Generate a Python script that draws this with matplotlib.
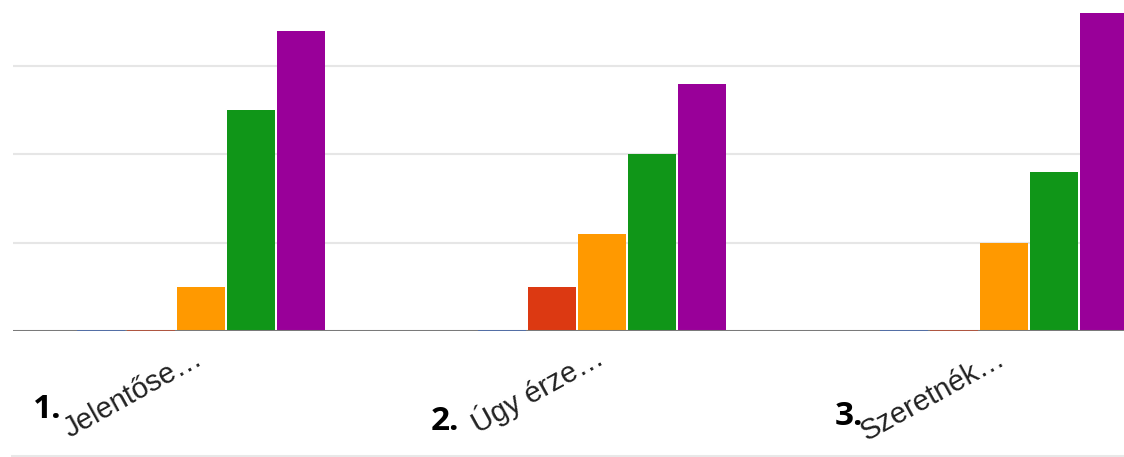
import matplotlib
matplotlib.use("Agg")
import matplotlib.pyplot as plt
from matplotlib.lines import Line2D
import numpy as np

# data
categories = ["Jelentőse…", "Úgy érze…", "Szeretnék…"]
numbers = ["1.", "2.", "3."]
blue = [0, 0, 0]
red = [0, 5, 0]
orange = [5, 11, 10]
green = [25, 20, 18]
purple = [34, 28, 36]
gridlines = [10, 20, 30]

series = [blue, red, orange, green, purple]
colors = ["#3366cc", "#dc3912", "#ff9900", "#109618", "#990099"]

# label placement (pixels, relative to group centre on the baseline)
num_offsets = [(-168, -87), (-172, -99), (-169, -94)]

W, H = 1124, 457
fig = plt.figure(figsize=(W / 100, H / 100), dpi=100)
ax = fig.add_axes([13 / W, 126 / H, (W - 13) / W, 331 / H])

x = np.arange(len(categories))
pitch = 50 / 401.5
width = 48 / 401.5
for j, (vals, c) in enumerate(zip(series, colors)):
    pos = x + (j - 2) * pitch
    for p, v in zip(pos, vals):
        if v == 0:
            # zero values show as a thin coloured strip on the baseline
            ax.bar(p, 0.2, bottom=-0.1, width=width, color=c, alpha=0.55,
                   linewidth=0, zorder=5)
        else:
            ax.bar(p, v, width=width, color=c, linewidth=0, zorder=3)

for g in gridlines:
    ax.axhline(g, color="#e6e6e6", lw=1.5, zorder=1)
ax.axhline(0, color="#7a7a7a", lw=2.2, zorder=4)

ax.set_xlim(-0.468, 2.299)
ax.set_ylim(0, 331 / 8.83)
ax.axis("off")

for i, (lab, num) in enumerate(zip(categories, numbers)):
    ax.annotate(lab, xy=(i, 0), xycoords="data", xytext=(3, -32),
                textcoords="offset pixels", rotation=29, rotation_mode="anchor",
                ha="right", va="baseline", fontsize=21, color="#222222",
                family="Liberation Sans", annotation_clip=False)
    dx, dy = num_offsets[i]
    ax.annotate(num, xy=(i, 0), xycoords="data", xytext=(dx, dy),
                textcoords="offset pixels", ha="left", va="baseline",
                fontsize=24, fontweight="bold", color="#000000",
                family="Open Sans", annotation_clip=False)

fig.add_artist(Line2D([12 / W, 1], [1 - 456 / H, 1 - 456 / H], color="#e8e8e8", lw=1.5))

fig.savefig("out.png", dpi=100)
